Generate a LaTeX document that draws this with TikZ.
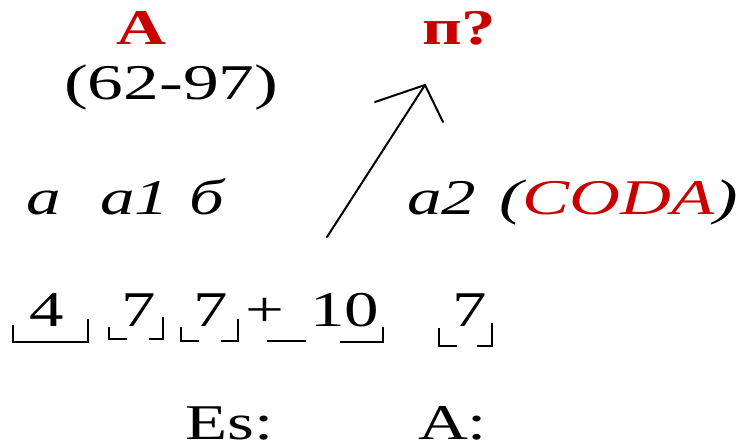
\documentclass[tikz,border=0pt]{standalone}
\usepackage{fontspec}
\setmainfont{Liberation Serif}[FakeStretch=1.38]
\definecolor{accred}{RGB}{200,0,0}
\tikzset{
  lbl/.style={anchor=base west, inner sep=0pt, outer sep=0pt, font=\fontsize{50}{60}\selectfont},
  hd/.style={lbl, text=accred, font=\fontsize{50}{60}\selectfont\bfseries},
  it/.style={lbl, font=\fontsize{50}{60}\selectfont\itshape},
  brk/.style={line width=2pt, line cap=butt, line join=miter},
  arr/.style={line width=2pt, line cap=round, line join=miter}
}
\begin{document}
\begin{tikzpicture}[x=1pt,y=1pt]
\useasboundingbox (0,0) rectangle (744,-443);
% headings
\node[hd] (hA) at (116,-45) {А};
\node[lbl] (rng) at (64,-100) {\addfontfeature{FakeStretch=1.43}(62-97)};
\node[hd] (hP) at (422,-45) {п?};
% italic row
\node[it] (ia) at (27,-215) {а};
\node[it] (ia1) at (100,-215) {а1};
\node[it] (ib) at (189,-215) {б};
\node[it] (ia2) at (407,-215) {а2};
\node[it] (coda) at (499,-215) {\addfontfeature{FakeStretch=1.41}(\textcolor{accred}{CODA})};
% arrow
\coordinate (aS) at (327,-237);
\coordinate (aT) at (425,-85);
\coordinate (bL) at (375,-102);
\coordinate (bR) at (443,-122);
\draw[arr] (aS) -- (aT);
\draw[arr] (bL) -- (aT) -- (bR);
% numbers row
\node[lbl] (n4) at (29,-327) {4};
\node[lbl] (n7a) at (121,-327) {7};
\node[lbl] (n7b) at (193,-327) {7};
\node[lbl] (npl) at (245,-327) {+};
\node[lbl] (n10) at (310,-327) {10};
\node[lbl] (n7c) at (452,-327) {7};
% brackets
\draw[brk] (13,-325) -- (13,-342) -- (88,-342) -- (88,-319);
\draw[brk] (109,-327) -- (109,-339) -- (127,-339);
\draw[brk] (149,-339) -- (163,-339) -- (163,-317);
\draw[brk] (181,-327) -- (181,-341) -- (199,-341);
\draw[brk] (221,-341) -- (238,-341) -- (238,-319);
\draw[brk] (267,-341) -- (306,-341);
\draw[brk] (340,-342) -- (383,-342) -- (383,-327);
\draw[brk] (439,-328) -- (439,-346) -- (457,-346);
\draw[brk] (477,-346) -- (492,-346) -- (492,-323);
% keys
\node[lbl] (kEs) at (185,-439) {Es:};
\node[lbl] (kA) at (418,-439) {A:};
\end{tikzpicture}
\end{document}
